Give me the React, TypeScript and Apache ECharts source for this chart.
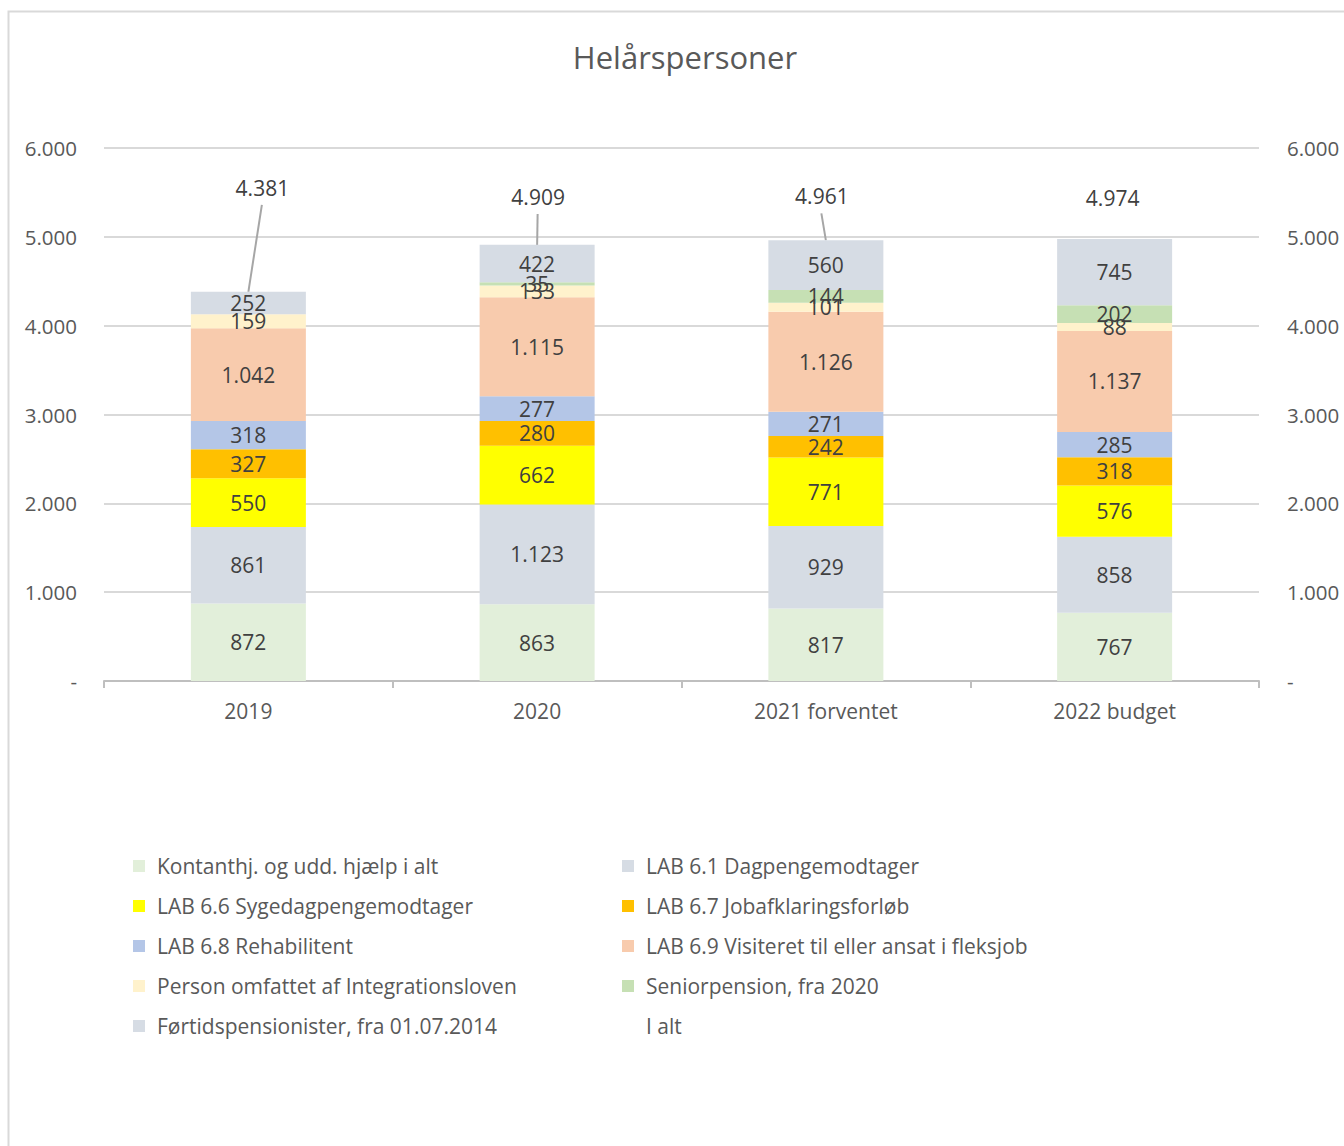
import React, { useEffect, useRef } from "react";
import * as echarts from "echarts";

const categories = ["2019", "2020", "2021 forventet", "2022 budget"];
const seriesNames = [
  "Kontanthj. og udd. hjælp i alt",
  "LAB 6.1 Dagpengemodtager",
  "LAB 6.6 Sygedagpengemodtager",
  "LAB 6.7 Jobafklaringsforløb",
  "LAB 6.8 Rehabilitent",
  "LAB 6.9 Visiteret til eller ansat i fleksjob",
  "Person omfattet af Integrationsloven",
  "Seniorpension, fra 2020",
  "Førtidspensionister, fra 01.07.2014",
];
const kontanthjaelp = [872, 863, 817, 767];
const lab61 = [861, 1123, 929, 858];
const lab66 = [550, 662, 771, 576];
const lab67 = [327, 280, 242, 318];
const lab68 = [318, 277, 271, 285];
const lab69 = [1042, 1115, 1126, 1137];
const integration = [159, 133, 101, 88];
const senior = [0, 35, 144, 202];
const foertid = [252, 422, 560, 745];
const iAlt = [4381, 4909, 4961, 4974];
const yTicks = [0, 1000, 2000, 3000, 4000, 5000, 6000];

const seriesValues = [kontanthjaelp, lab61, lab66, lab67, lab68, lab69, integration, senior, foertid];
const colors = ["#e2efda", "#d6dce4", "#ffff00", "#ffc000", "#b4c6e7", "#f8cbad", "#fff2cc", "#c6e0b4", "#d6dce4"];
// label displacement for the total labels (pixels) and whether a leader line is drawn
const totalLabelOffsets = [[14, -104], [1, -48], [-4, -44], [-2, -41]];
const totalLeader = [true, true, true, false];

const FONT = "Open Sans";
const fmt = (n: number) => (n === 0 ? "-" : String(n).replace(/\B(?=(\d{3})+(?!\d))/g, "."));

export default function App() {
  const ref = useRef<HTMLDivElement>(null);
  useEffect(() => {
    if (!ref.current) return;
    const chart = echarts.init(ref.current, undefined, { renderer: "svg" });
    const barSeries = seriesNames.map((name, i) => ({
      name,
      type: "bar",
      stack: "total",
      barWidth: 115,
      data: seriesValues[i],
      itemStyle: { color: colors[i] },
      label: {
        show: true,
        position: "inside",
        fontFamily: FONT,
        fontSize: 21,
        color: "#404040",
        formatter: (p: any) => (p.value ? fmt(p.value) : ""),
      },
      emphasis: { disabled: true },
    }));
    const totalSeries = {
      name: "I alt",
      type: "custom",
      data: iAlt.map((v, i) => [i, v]),
      renderItem: (params: any, api: any) => {
        const idx = params.dataIndex;
        const pt = api.coord([api.value(0), api.value(1)]);
        const [dx, dy] = totalLabelOffsets[idx];
        const lx = pt[0] + dx;
        const ly = pt[1] + dy;
        const children: any[] = [
          {
            type: "text",
            x: lx,
            y: ly,
            style: {
              text: fmt(api.value(1)),
              fontFamily: FONT,
              fontSize: 21,
              fill: "#404040",
              align: "center",
              verticalAlign: "middle",
            },
          },
        ];
        if (totalLeader[idx]) {
          children.push({
            type: "line",
            shape: { x1: pt[0], y1: pt[1], x2: lx - 0.5, y2: ly + 17 },
            style: { stroke: "#a6a6a6", lineWidth: 2 },
          });
        }
        return { type: "group", children };
      },
    };
    const legendText = { fontFamily: FONT, fontSize: 21, color: "#595959", lineHeight: 22, padding: [0, 0, 0, 7] };
    const col1 = [0, 2, 4, 6, 8].map((i) => seriesNames[i]);
    const col2 = [1, 3, 5, 7].map((i) => seriesNames[i]);
    const axisLabel = {
      fontFamily: FONT,
      fontSize: 20.5,
      color: "#595959",
      formatter: (v: number) => fmt(v),
    };
    chart.setOption({
      animation: false,
      backgroundColor: "#ffffff",
      title: {
        text: "Helårspersoner",
        left: 680,
        top: 36,
        textAlign: "center",
        textStyle: { fontFamily: FONT, fontSize: 31, fontWeight: "normal", color: "#595959" },
      },
      graphic: [
        {
          type: "rect",
          shape: { x: 8.5, y: 11.5, width: 1400, height: 1200 },
          style: { fill: "none", stroke: "#d9d9d9", lineWidth: 2 },
          silent: true,
        },
      ],
      legend: [
        {
          orient: "vertical",
          left: 128,
          top: 850,
          itemWidth: 12,
          itemHeight: 12,
          itemGap: 18,
          icon: "rect",
          textStyle: legendText,
          data: col1,
          selectedMode: false,
        },
        {
          orient: "vertical",
          left: 617,
          top: 850,
          itemWidth: 12,
          itemHeight: 12,
          itemGap: 18,
          icon: "rect",
          textStyle: legendText,
          data: [...col2, { name: "I alt", icon: "none" }],
          selectedMode: false,
        },
      ],
      grid: { left: 104, right: 85, top: 148, bottom: 465, containLabel: false },
      xAxis: {
        type: "category",
        data: categories,
        axisLine: { lineStyle: { color: "#bfbfbf", width: 2 } },
        axisTick: { show: true, length: 7, lineStyle: { color: "#bfbfbf", width: 2 } },
        axisLabel: { fontFamily: FONT, fontSize: 21, color: "#595959", margin: 19 },
      },
      yAxis: [
        {
          type: "value",
          min: yTicks[0],
          max: yTicks[yTicks.length - 1],
          interval: 1000,
          axisLine: { show: false },
          axisTick: { show: false },
          splitLine: { lineStyle: { color: "#d9d9d9", width: 2 } },
          axisLabel: { ...axisLabel, margin: 27 },
        },
        {
          type: "value",
          position: "right",
          min: yTicks[0],
          max: yTicks[yTicks.length - 1],
          interval: 1000,
          axisLine: { show: false },
          axisTick: { show: false },
          splitLine: { show: false },
          axisLabel: { ...axisLabel, margin: 28 },
        },
      ],
      series: [...barSeries, totalSeries],
    });
    return () => chart.dispose();
  }, []);
  return <div ref={ref} style={{ position: "absolute", left: 0, top: 0, width: 1344, height: 1146 }} />;
}
